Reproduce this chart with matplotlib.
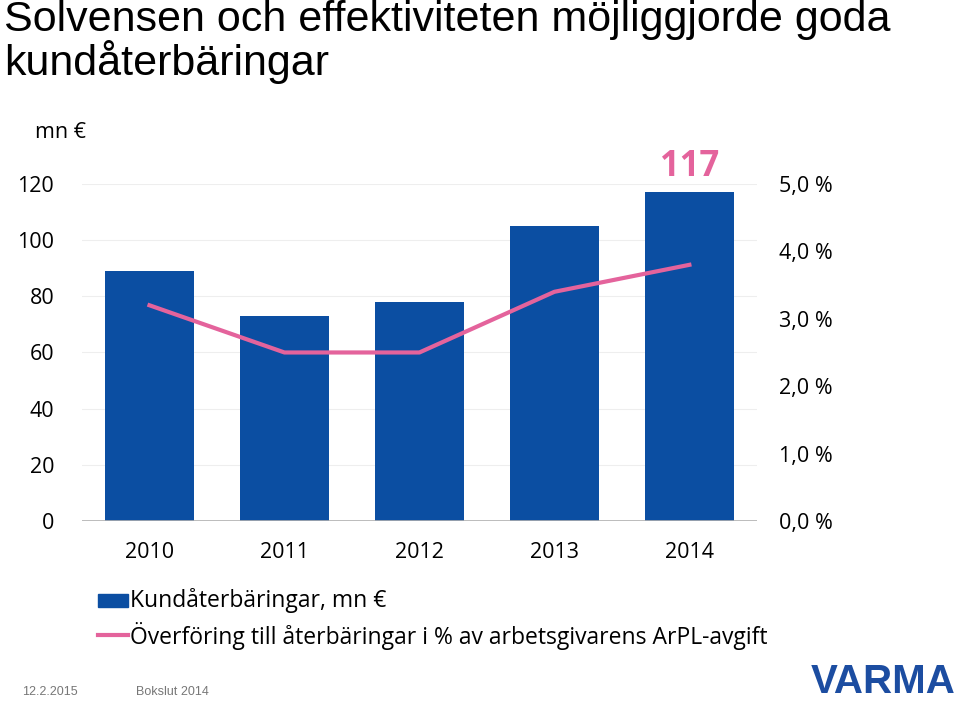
import numpy as np
import matplotlib
matplotlib.use("Agg")
from matplotlib import pyplot as plt

# ---- data ----
years = ["2010", "2011", "2012", "2013", "2014"]
aterbaringar = [89, 73, 78, 105, 117]       # mn €
overforing = [3.2, 2.5, 2.5, 3.4, 3.8]      # % av ArPL-avgift
left_ticks = [0, 20, 40, 60, 80, 100, 120]
right_ticks = [0.0, 1.0, 2.0, 3.0, 4.0, 5.0]

blue = "#0B4EA2"
pink = "#E4639C"
tickfont = "Open Sans"

fig = plt.figure(figsize=(9.6, 7.02), dpi=100)
ax = fig.add_axes([0.0854, 0.2578, 0.703, 0.4802])

x = np.arange(len(years))
ax.bar(x, aterbaringar, width=0.66, color=blue, zorder=2)

# right axis in %, 5 % lines up with 120 mn €
ax2 = ax.twinx()
ax2.plot(x, overforing, color=pink, lw=3, zorder=3)
ax2.set_ylim(0, 5)
ax.set_ylim(0, 120)
ax.set_xlim(-0.5, 4.5)

ax.set_yticks(left_ticks)
ax.set_yticklabels([str(t) for t in left_ticks], fontsize=15.5, family=tickfont)
ax2.set_yticks(right_ticks)
ax2.set_yticklabels([("%.1f %%" % t).replace(".", ",") for t in right_ticks],
                    fontsize=15.5, family=tickfont)
ax.set_xticks(x)
ax.set_xticklabels(years, fontsize=15.5, family=tickfont)

ax.tick_params(axis="y", length=0, pad=20)
ax2.tick_params(axis="y", length=0, pad=16)
ax.tick_params(axis="x", length=0, pad=15)

ax.grid(axis="y", color="#eeeeee", lw=0.8, zorder=0)
ax.set_axisbelow(True)
for a in (ax, ax2):
    for s in a.spines.values():
        s.set_visible(False)
ax.axhline(0, color="#b0b0b0", lw=1.2, zorder=4)

fig.text(0.036, 0.811, "mn €", fontsize=15.5, family=tickfont,
         ha="left", va="center")

# label on last bar
ax.text(x[-1], aterbaringar[-1] + 2.5, str(aterbaringar[-1]), color=pink,
        fontsize=25, fontweight="bold", family=tickfont, ha="center",
        va="bottom", clip_on=False)

# title
fig.text(0.004, 1.0, "Solvensen och effektiviteten möjliggjorde goda\nkundåterbäringar",
         fontsize=31, family="Liberation Sans", ha="left", va="top", linespacing=1.0)

# legend drawn by hand
lx = 0.102
fig.patches.append(plt.Rectangle((lx, 0.135), 0.031, 0.019, color=blue,
                                 transform=fig.transFigure, figure=fig))
fig.lines.append(plt.Line2D([lx, lx + 0.031], [0.0955, 0.0955], color=pink,
                            lw=3, transform=fig.transFigure, figure=fig))
fig.text(0.135, 0.144, "Kundåterbäringar, mn €", fontsize=16.5,
         family=tickfont, va="center")
fig.text(0.135, 0.094, "Överföring till återbäringar i % av arbetsgivarens ArPL-avgift",
         fontsize=16.5, family=tickfont, va="center")

# footer
fig.text(0.023, 0.014, "12.2.2015", fontsize=9, color="#777777",
         family="Liberation Sans", va="center")
fig.text(0.142, 0.014, "Bokslut 2014", fontsize=9, color="#777777",
         family="Liberation Sans", va="center")
fig.text(0.995, 0.028, "VARMA", fontsize=29, color="#1C4DA1",
         family="Liberation Sans", fontweight="bold", ha="right", va="center")

fig.savefig("out.png", dpi=100)
